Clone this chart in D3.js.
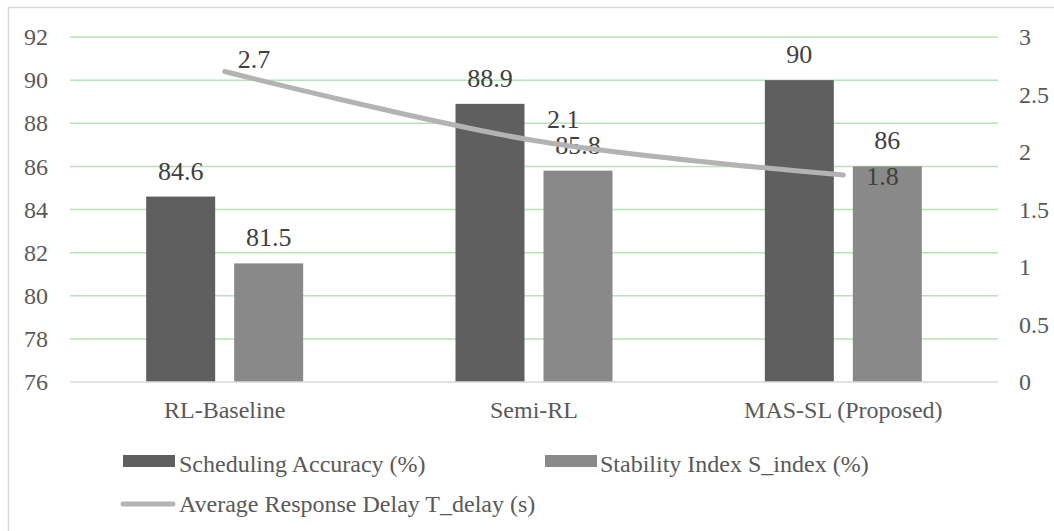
<!DOCTYPE html>
<html>
<head>
<meta charset="utf-8">
<script src="https://cdn.jsdelivr.net/npm/d3@7/dist/d3.min.js"></script>
<style>
  html, body { margin: 0; padding: 0; background: #fff; }
  svg { display: block; }
  text { font-family: "Liberation Serif", "Times New Roman", serif; }
</style>
</head>
<body>
<svg id="chart" width="1054" height="531"></svg>
<script>
// Methods compared
const categories = ["RL-Baseline", "Semi-RL", "MAS-SL (Proposed)"];
// Bar series (left axis, %)
const barSeries = ["Scheduling Accuracy (%)", "Stability Index S_index (%)"];
const schedulingAccuracy = [84.6, 88.9, 90];
const stabilityIndex = [81.5, 85.8, 86];
// Line series (right axis, seconds)
const lineSeries = "Average Response Delay T_delay (s)";
const responseDelay = [2.7, 2.1, 1.8];
// Axis ticks
const leftTicks = [76, 78, 80, 82, 84, 86, 88, 90, 92];
const rightTicks = [0, 0.5, 1, 1.5, 2, 2.5, 3];

// Layout
const plot = { left: 70, right: 998, top: 37, bottom: 382 };
const barColors = ["#5f5f5f", "#898989"];
const lineColor = "#b3b3b3";
const gridColor = "#b7e3b9";
// Nudges for the delay labels, relative to each point
const delayLabelOffsets = [[13, -3.5], [13, -12.5], [23, 10]];

const svg = d3.select("#chart");

// Chart frame
svg.append("rect")
  .attr("x", 8.5).attr("y", 7.5)
  .attr("width", 1100).attr("height", 600)
  .attr("fill", "#fff").attr("stroke", "#d9d9d9").attr("stroke-width", 1.5);

const x0 = d3.scaleBand().domain(categories).range([plot.left, plot.right]);
const x1 = d3.scaleBand().domain(barSeries).range([-78.5, 78.5]).paddingInner(0.216);
const yLeft = d3.scaleLinear().domain([76, 92]).range([plot.bottom, plot.top]);
const yRight = d3.scaleLinear().domain([0, 3]).range([plot.bottom, plot.top]);

// Horizontal gridlines
svg.append("g")
  .selectAll("line")
  .data(leftTicks.filter(t => t !== 76))
  .join("line")
  .attr("x1", plot.left).attr("x2", plot.right)
  .attr("y1", d => yLeft(d)).attr("y2", d => yLeft(d))
  .attr("stroke", gridColor).attr("stroke-width", 1.5);

// Left axis
const leftAxis = svg.append("g")
  .attr("transform", `translate(${plot.left - 22},0)`)
  .call(d3.axisLeft(yLeft).tickValues(leftTicks).tickSize(0).tickPadding(0).tickFormat(d3.format("d")));
leftAxis.select(".domain").remove();
leftAxis.selectAll("text")
  .attr("fill", "#595959").attr("font-size", 24)
  .attr("font-family", "Liberation Serif");

// Right axis
const rightAxis = svg.append("g")
  .attr("transform", `translate(${plot.right + 21},0)`)
  .call(d3.axisRight(yRight).tickValues(rightTicks).tickSize(0).tickPadding(0).tickFormat(d => String(d)));
rightAxis.select(".domain").remove();
rightAxis.selectAll("text")
  .attr("fill", "#595959").attr("font-size", 24)
  .attr("font-family", "Liberation Serif");

// Bars
const barData = categories.map((c, i) => ({
  cat: c,
  values: [
    { key: barSeries[0], value: schedulingAccuracy[i] },
    { key: barSeries[1], value: stabilityIndex[i] }
  ]
}));

const groups = svg.append("g")
  .selectAll("g")
  .data(barData)
  .join("g")
  .attr("transform", d => `translate(${x0(d.cat) + x0.bandwidth() / 2},0)`);

groups.selectAll("rect")
  .data(d => d.values)
  .join("rect")
  .attr("x", d => x1(d.key))
  .attr("width", x1.bandwidth())
  .attr("y", d => yLeft(d.value))
  .attr("height", d => plot.bottom - yLeft(d.value))
  .attr("fill", (d, i) => barColors[i]);

groups.selectAll("text.bar-label")
  .data(d => d.values)
  .join("text")
  .attr("class", "bar-label")
  .attr("x", d => x1(d.key) + x1.bandwidth() / 2)
  .attr("y", d => yLeft(d.value) - 17)
  .attr("text-anchor", "middle")
  .attr("font-size", 26)
  .attr("fill", "#404040")
  .text(d => d.value);

// Category axis baseline
svg.append("line")
  .attr("x1", plot.left).attr("x2", plot.right)
  .attr("y1", plot.bottom).attr("y2", plot.bottom)
  .attr("stroke", "#d9d9d9").attr("stroke-width", 1.5);

// Category labels
svg.append("g")
  .selectAll("text")
  .data(categories)
  .join("text")
  .attr("x", d => x0(d) + x0.bandwidth() / 2)
  .attr("y", 418)
  .attr("text-anchor", "middle")
  .attr("font-size", 24)
  .attr("fill", "#595959")
  .text(d => d);

// Delay line (smoothed)
const linePts = categories.map((c, i) => [x0(c) + x0.bandwidth() / 2, yRight(responseDelay[i])]);
svg.append("path")
  .attr("d", d3.line().curve(d3.curveCatmullRom.alpha(0.5))(linePts))
  .attr("fill", "none")
  .attr("stroke", lineColor)
  .attr("stroke-width", 5)
  .attr("stroke-linecap", "round")
  .attr("stroke-linejoin", "round");

svg.append("g")
  .selectAll("text")
  .data(responseDelay)
  .join("text")
  .attr("x", (d, i) => linePts[i][0] + delayLabelOffsets[i][0])
  .attr("y", (d, i) => linePts[i][1] + delayLabelOffsets[i][1])
  .attr("font-size", 26)
  .attr("fill", "#404040")
  .text(d => d);

// Legend
const legend = svg.append("g");
legend.append("rect").attr("x", 123).attr("y", 455).attr("width", 52).attr("height", 12).attr("fill", barColors[0]);
legend.append("text").attr("x", 179).attr("y", 472).attr("font-size", 24).attr("fill", "#595959").text(barSeries[0]);
legend.append("rect").attr("x", 545).attr("y", 455).attr("width", 52).attr("height", 12).attr("fill", barColors[1]);
legend.append("text").attr("x", 600).attr("y", 472).attr("font-size", 24).attr("fill", "#595959").text(barSeries[1]);
legend.append("line").attr("x1", 123).attr("x2", 173).attr("y1", 504).attr("y2", 504)
  .attr("stroke", lineColor).attr("stroke-width", 5).attr("stroke-linecap", "round");
legend.append("text").attr("x", 179).attr("y", 512).attr("font-size", 24).attr("fill", "#595959").text(lineSeries);
</script>
</body>
</html>
